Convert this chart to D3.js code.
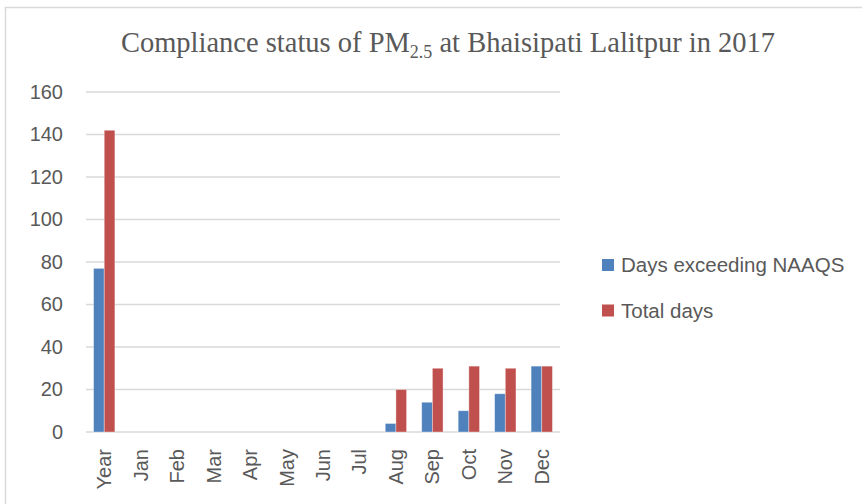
<!DOCTYPE html>
<html lang="en">
<head>
    <meta charset="UTF-8">
    <title>Compliance status of PM2.5 at Bhaisipati Lalitpur in 2017</title>
    <script src="https://d3js.org/d3.v7.min.js"></script>
    <style>
        body { margin: 0; background: #fff; }
        text { fill: #595959; }
    </style>
</head>
<body>
    <div id="chart"></div>
    <script>
        // Data
        var categories = ["Year", "Jan", "Feb", "Mar", "Apr", "May", "Jun", "Jul", "Aug", "Sep", "Oct", "Nov", "Dec"];
        var daysExceeding = [77, 0, 0, 0, 0, 0, 0, 0, 4, 14, 10, 18, 31];
        var totalDays = [142, 0, 0, 0, 0, 0, 0, 0, 20, 30, 31, 30, 31];
        var seriesNames = ["Days exceeding NAAQS", "Total days"];
        var seriesColors = ["#4f81bd", "#c0504d"];
        var yTicks = [0, 20, 40, 60, 80, 100, 120, 140, 160];

        var width = 862, height = 504;
        var plot = { left: 86, right: 560, top: 92, bottom: 432 };

        var svg = d3.select("#chart").append("svg")
            .attr("width", width)
            .attr("height", height)
            .style("font-family", "'Liberation Sans', Arial, sans-serif");

        // outer chart border (runs off the right and bottom edges)
        svg.append("rect")
            .attr("x", 5.5).attr("y", 7.5)
            .attr("width", 900).attr("height", 600)
            .attr("fill", "none")
            .attr("stroke", "#d9d9d9")
            .attr("stroke-width", 1.5);

        var x0 = d3.scaleBand()
            .domain(categories)
            .range([plot.left, plot.right])
            .paddingInner(0.415)
            .paddingOuter(0.2075);

        var x1 = d3.scaleBand()
            .domain([0, 1])
            .range([0, x0.bandwidth()]);

        var y = d3.scaleLinear()
            .domain([0, 160])
            .range([plot.bottom, plot.top]);

        // gridlines
        svg.append("g").selectAll("line")
            .data(yTicks)
            .enter().append("line")
            .attr("x1", plot.left).attr("x2", plot.right)
            .attr("y1", d => y(d)).attr("y2", d => y(d))
            .attr("stroke", "#d9d9d9")
            .attr("stroke-width", 1.5);

        // y axis labels
        var yAxis = d3.axisLeft(y).tickValues(yTicks).tickSize(0).tickPadding(0);
        var gy = svg.append("g")
            .attr("transform", "translate(" + 63 + ",0)")
            .call(yAxis);
        gy.select(".domain").remove();
        gy.selectAll("text")
            .style("font-size", "20px")
            .style("font-family", "'Liberation Sans', Arial, sans-serif")
            .attr("fill", "#595959");

        // bars
        var rows = categories.map((c, i) => ({ cat: c, vals: [daysExceeding[i], totalDays[i]] }));
        var groups = svg.append("g").selectAll("g")
            .data(rows)
            .enter().append("g")
            .attr("transform", d => "translate(" + x0(d.cat) + ",0)");

        groups.selectAll("rect")
            .data(d => d.vals.map((v, k) => ({ k: k, v: v })).filter(e => e.v > 0))
            .enter().append("rect")
            .attr("x", d => x1(d.k))
            .attr("width", x1.bandwidth())
            .attr("y", d => y(d.v))
            .attr("height", d => y(0) - y(d.v))
            .attr("fill", d => seriesColors[d.k])
            .attr("stroke", "rgba(255,255,255,0.45)")
            .attr("stroke-width", 0.8);

        // x axis labels (rotated)
        var xAxis = d3.axisBottom(x0).tickSize(0).tickPadding(0);
        var gx = svg.append("g")
            .attr("transform", "translate(0," + plot.bottom + ")")
            .call(xAxis);
        gx.select(".domain").remove();
        gx.selectAll("text")
            .style("font-size", "20px")
            .style("font-family", "'Liberation Sans', Arial, sans-serif")
            .attr("fill", "#595959")
            .attr("text-anchor", "end")
            .attr("transform", "rotate(-90)")
            .attr("x", -17)
            .attr("y", 0)
            .attr("dy", "0.35em");

        // title with subscript
        var title = svg.append("text")
            .attr("x", 448)
            .attr("y", 52)
            .attr("text-anchor", "middle")
            .style("font-family", "'Liberation Serif', 'DejaVu Serif', serif")
            .style("font-size", "28.5px");
        title.append("tspan").text("Compliance status of PM");
        title.append("tspan").text("2.5").style("font-size", "18px").attr("dy", 6);
        title.append("tspan").text(" at Bhaisipati Lalitpur in 2017").attr("dy", -6);

        // legend
        var legend = svg.append("g").selectAll("g")
            .data(seriesNames)
            .enter().append("g")
            .attr("transform", (d, i) => "translate(602," + (259 + i * 45.5) + ")");
        legend.append("rect")
            .attr("width", 12).attr("height", 12)
            .attr("fill", (d, i) => seriesColors[i]);
        legend.append("text")
            .attr("x", 19)
            .attr("y", 13)
            .style("font-size", "20.5px")
            .text(d => d);
    </script>
</body>
</html>
